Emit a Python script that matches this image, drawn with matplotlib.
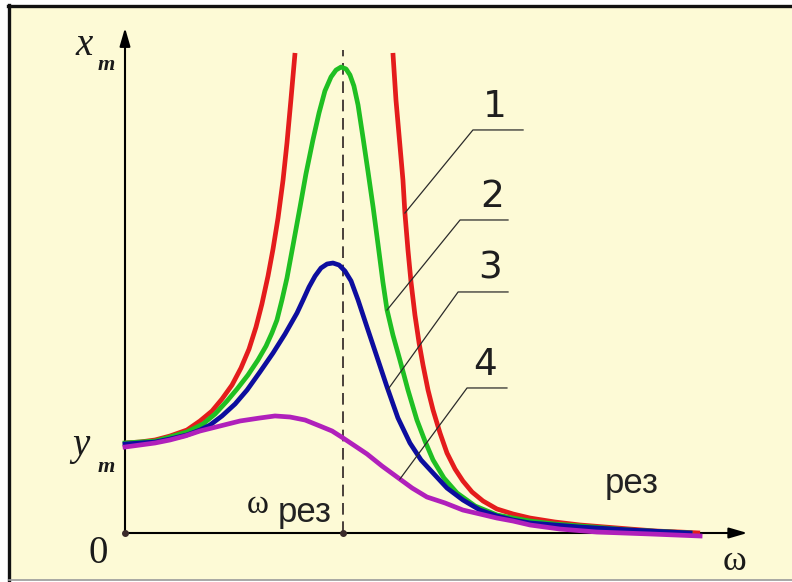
import numpy as np
import matplotlib
matplotlib.use("Agg")
import matplotlib.pyplot as plt
from matplotlib.patches import Rectangle

# frequency in units of the resonance frequency, amplitude in units of y_m
red_left_w = [0.000, 0.069, 0.138, 0.206, 0.284, 0.344, 0.399, 0.445, 0.491, 0.532,
              0.569, 0.601, 0.628, 0.656, 0.679, 0.702, 0.725, 0.743, 0.761, 0.780]
red_left_a = [1.023, 1.034, 1.057, 1.102, 1.170, 1.273, 1.386, 1.523, 1.682, 1.875,
              2.091, 2.341, 2.602, 2.920, 3.227, 3.580, 4.011, 4.432, 4.920, 5.455]
red_right_w = [1.229, 1.243, 1.261, 1.275, 1.284, 1.298, 1.312, 1.330, 1.349, 1.367, 1.390, 1.413, 1.445, 1.477,
               1.514, 1.550, 1.592, 1.642, 1.706, 1.780, 1.858, 1.972, 2.087, 2.202, 2.317, 2.431, 2.546, 2.638]
red_right_a = [5.455, 4.920, 4.409, 4.011, 3.636, 3.216, 2.852, 2.477, 2.159, 1.909, 1.625, 1.398, 1.136, 0.909,
               0.727, 0.591, 0.466, 0.364, 0.273, 0.216, 0.170, 0.125, 0.091, 0.068, 0.045, 0.023, 0.011, 0.000]

green_w = [0.000, 0.069, 0.138, 0.206, 0.284, 0.358, 0.413, 0.468, 0.514, 0.564, 0.610, 0.647, 0.674, 0.697,
           0.720, 0.743, 0.771, 0.803, 0.830, 0.862, 0.890, 0.917, 0.945, 0.968, 0.991, 1.014, 1.032, 1.050,
           1.069, 1.092, 1.115, 1.138, 1.161, 1.183, 1.202, 1.229, 1.261, 1.298, 1.339, 1.376, 1.413, 1.463,
           1.523, 1.606, 1.706, 1.780, 1.858, 1.972, 2.087, 2.317, 2.592]
green_a = [1.023, 1.034, 1.045, 1.091, 1.148, 1.239, 1.352, 1.500, 1.636, 1.795, 1.966, 2.125, 2.273, 2.420,
           2.648, 2.898, 3.273, 3.705, 4.080, 4.466, 4.773, 5.023, 5.182, 5.261, 5.295, 5.273, 5.205, 5.080,
           4.864, 4.489, 4.102, 3.705, 3.273, 2.852, 2.534, 2.250, 1.966, 1.625, 1.284, 1.045, 0.830, 0.625,
           0.455, 0.307, 0.205, 0.170, 0.136, 0.102, 0.080, 0.034, 0.000]

blue_w = [0.000, 0.069, 0.138, 0.206, 0.284, 0.344, 0.390, 0.445, 0.505, 0.560, 0.619, 0.679, 0.734, 0.789,
          0.817, 0.844, 0.872, 0.899, 0.927, 0.954, 0.982, 1.009, 1.037, 1.069, 1.110, 1.156, 1.202, 1.252,
          1.307, 1.358, 1.413, 1.477, 1.550, 1.628, 1.706, 1.780, 1.858, 1.972, 2.087, 2.317, 2.592]
blue_a = [1.011, 1.023, 1.034, 1.068, 1.114, 1.170, 1.227, 1.330, 1.466, 1.625, 1.830, 2.045, 2.261, 2.500,
          2.648, 2.795, 2.920, 3.011, 3.057, 3.068, 3.045, 2.977, 2.864, 2.648, 2.341, 2.000, 1.659, 1.307,
          1.023, 0.830, 0.682, 0.511, 0.375, 0.261, 0.193, 0.148, 0.114, 0.091, 0.068, 0.034, 0.000]

magenta_w = [0.000, 0.069, 0.138, 0.206, 0.275, 0.344, 0.436, 0.528, 0.619, 0.688, 0.757, 0.826, 0.894, 0.950,
             1.000, 1.055, 1.110, 1.179, 1.248, 1.317, 1.385, 1.468, 1.550, 1.628, 1.706, 1.780, 1.858, 1.995,
             2.165, 2.408, 2.638]
magenta_a = [0.977, 1.000, 1.023, 1.057, 1.102, 1.159, 1.216, 1.273, 1.307, 1.330, 1.318, 1.284, 1.216, 1.159,
             1.080, 0.989, 0.898, 0.761, 0.636, 0.511, 0.409, 0.341, 0.261, 0.216, 0.170, 0.136, 0.091, 0.045,
             0.011, -0.011, -0.034]

curve_numbers = ["1", "2", "3", "4"]
# where each leader line touches its curve (frequency)
leader_w = [1.284, 1.202, 1.206, 1.261]

BG = "#fdfad6"
RED, GREEN, BLUE, MAGENTA = "#e41c1c", "#1fbf22", "#0d0d9e", "#b020bb"
INK = "#1a1a1a"

fig = plt.figure(figsize=(7.92, 5.82), dpi=100, facecolor="white")

# cream panel with a dark frame on the top and left
fig.patches.append(Rectangle((9 / 792, 2 / 582), 783 / 792, 574 / 582,
                             transform=fig.transFigure, facecolor=BG, edgecolor="none", zorder=-10))
fig.lines.append(plt.Line2D([8 / 792, 1], [1 - 6 / 582] * 2, transform=fig.transFigure,
                            color="#111111", lw=2.4, zorder=-5))
fig.lines.append(plt.Line2D([9 / 792] * 2, [0, 1 - 5 / 582], transform=fig.transFigure,
                            color="#111111", lw=2.4, zorder=-5))
fig.lines.append(plt.Line2D([9 / 792, 1], [2 / 582] * 2, transform=fig.transFigure,
                            color="#9a9a9a", lw=1.2, zorder=-5))

ax = fig.add_axes([0, 0, 1, 1])
ax.set_zorder(1)
ax.set_xlim(-125 / 218, 667 / 218)
ax.set_ylim(-49 / 88, 533 / 88)
ax.axis("off")

# coordinate axes with arrow heads
arrow = dict(arrowstyle="-|>,head_length=0.55,head_width=0.16", color="black",
             lw=1.5, shrinkA=0, shrinkB=0, mutation_scale=20)
ax.annotate("", xy=(0, 5.74), xytext=(0, 0), arrowprops=arrow)
ax.annotate("", xy=(2.855, 0), xytext=(0, 0), arrowprops=arrow)

# resonance marker
ax.plot([1, 1], [0, 5.49], color="#2a2020", lw=1.2, ls=(0, (7, 4)), zorder=2)
ax.plot([0, 1], [0, 0], ls="none", marker="o", ms=4, color="#3a2a2a", zorder=6)

style = dict(lw=3.4, solid_joinstyle="round", zorder=3)
ax.plot(red_left_w, red_left_a, color=RED, solid_capstyle="butt", **style)
ax.plot(red_right_w, red_right_a, color=RED, solid_capstyle="butt", **style)
ax.plot(green_w, green_a, color=GREEN, **style)
ax.plot(blue_w, blue_a, color=BLUE, **style)
ax.plot(magenta_w, magenta_a, color=MAGENTA, **style)

# numbered leader lines
branches = [(red_right_w, red_right_a), (green_w, green_a), (blue_w, blue_a), (magenta_w, magenta_a)]
elbows = [(1.596, 4.580), (1.537, 3.557), (1.528, 2.739), (1.569, 1.648)]
line_ends = [1.826, 1.757, 1.757, 1.752]
text_x = [1.697, 1.683, 1.674, 1.651]
for num, wl, (bw, ba), (ex, ey), x_end, tx in zip(curve_numbers, leader_w, branches, elbows, line_ends, text_x):
    al = np.interp(wl, bw, ba)
    ax.plot([wl, ex, x_end], [al, ey, ey], color="#2b2b2b", lw=0.9, zorder=4)
    ax.text(tx, ey + 0.15, num, ha="center", va="baseline", fontsize=27,
            family="DejaVu Sans", color="#1e1e1e", zorder=5)

serif = "Liberation Serif"
ax.text(-0.229, 5.432, "x", fontsize=28, family=serif, style="italic", color=INK)
ax.text(-0.128, 5.261, "m", fontsize=16, family=serif, style="italic", weight="bold", color=INK)
ax.text(-0.243, 0.886, "y", fontsize=28, family=serif, style="italic", color=INK)
ax.text(-0.128, 0.693, "m", fontsize=16, family=serif, style="italic", weight="bold", color=INK)
ax.text(-0.124, -0.341, "0", fontsize=28, family=serif, ha="center", va="baseline", color=INK)
ax.text(2.798, -0.42, "ω", fontsize=26, family=serif, ha="center", va="baseline", color=INK)
ax.text(0.560, 0.227, "ω", fontsize=24, family=serif, ha="left", va="baseline", color=INK)
ax.text(0.700, 0.125, "рез", fontsize=25, family="Liberation Sans", ha="left", va="baseline", color="#222222")
ax.text(2.202, 0.455, "рез", fontsize=25, family="Liberation Sans", ha="left", va="baseline", color="#222222")

fig.savefig("out.png", dpi=100, facecolor=fig.get_facecolor())
